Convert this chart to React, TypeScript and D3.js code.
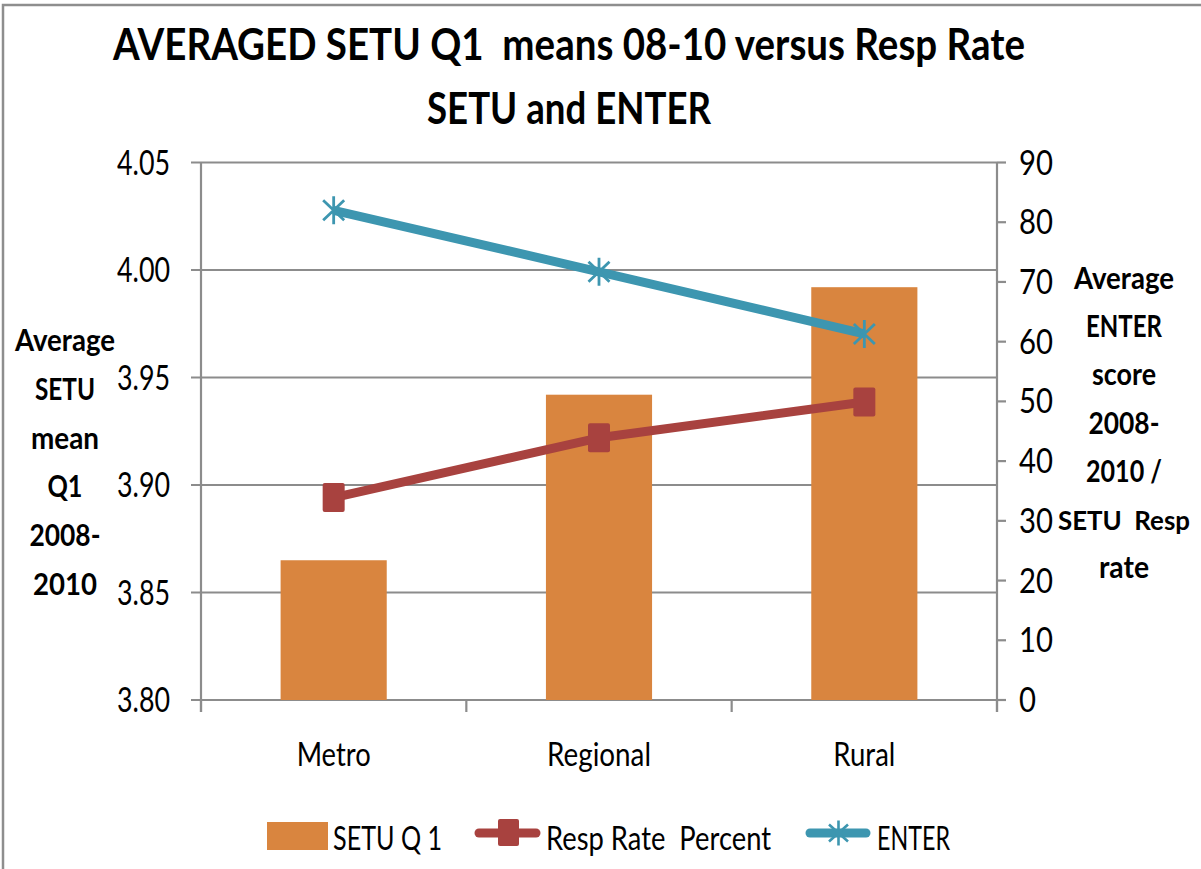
import React from "react";
import * as d3 from "d3";

const categories = ["Metro", "Regional", "Rural"];
const setuQ1 = [3.865, 3.942, 3.992];
const respRate = [33.9, 43.9, 49.9];
const enter = [82.0, 71.7, 61.3];
const leftTicks = [3.8, 3.85, 3.9, 3.95, 4.0, 4.05];
const rightTicks = [0, 10, 20, 30, 40, 50, 60, 70, 80, 90];
const titleLines = ["AVERAGED SETU Q1  means 08-10 versus Resp Rate", "SETU and ENTER"];
const leftTitle = ["Average", "SETU", "mean", "Q1", "2008-", "2010"];
const rightTitle = ["Average", "ENTER", "score", "2008-", "2010 /", "SETU  Resp", "rate"];
const legendLabels = ["SETU Q 1", "Resp Rate  Percent", "ENTER"];

const ORANGE = "#D9853F";
const RED = "#A8423F";
const BLUE = "#3D96B0";
const GRID = "#8C8C8C";
const FONT = "Lato, 'Open Sans', sans-serif";

function T(props: any) {
  const { x, y, w, anchor = "start", size = 33, bold = false, children } = props;
  return (
    <text
      x={x}
      y={y}
      textAnchor={anchor}
      fontSize={size}
      fontWeight={bold ? 700 : 400}
      fontFamily={FONT}
      fill="#000"
      textLength={w}
      lengthAdjust="spacingAndGlyphs"
      style={{ whiteSpace: "pre" }}
    >
      {children}
    </text>
  );
}

function Star({ cx, cy, w, h, sw }: any) {
  const d = `M${cx},${cy - h / 2}L${cx},${cy + h / 2}M${cx - w / 2},${cy - h / 2 + 4}L${cx + w / 2},${cy + h / 2 - 4}M${cx - w / 2},${cy + h / 2 - 4}L${cx + w / 2},${cy - h / 2 + 4}`;
  return <path d={d} stroke={BLUE} strokeWidth={sw} fill="none" />;
}

export default function App() {
  const left = 201;
  const right = 997;
  const top = 162.5;
  const bottom = 700;

  const x = d3.scaleBand<string>().domain(categories).range([left, right]).paddingInner(0.6).paddingOuter(0.3);
  const yL = d3.scaleLinear().domain([3.8, 4.05]).range([bottom, top]);
  const yR = d3.scaleLinear().domain([0, 90]).range([bottom, top]);
  const step = x.step();
  const cx = (c: string) => (x(c) as number) + x.bandwidth() / 2;

  const line = d3.line<number>().x((_, i) => cx(categories[i])).y((v) => yR(v));

  const leftLabelW = 53;
  const catWidths = [74, 104, 62];
  const leftTitleW = [100, 60, 68, 35, 71, 64];
  const rightTitleW = [100, 76, 64, 71, 76, 132, 50];

  return (
    <svg width={1201} height={869} style={{ position: "absolute", left: 0, top: 0, background: "#fff" }}>
      <rect x={0} y={0} width={1201} height={869} fill="#fff" />
      {/* frame */}
      <path d="M3,869L3,5L1201,5" stroke="#8E8E8E" strokeWidth={2.5} fill="none" />

      {/* title */}
      <T x={113} y={60} w={912} size={43} bold>{titleLines[0]}</T>
      <T x={427} y={124} w={284} size={43} bold>{titleLines[1]}</T>

      {/* gridlines */}
      {leftTicks.map((t) => (
        <line key={"g" + t} x1={left - 10} x2={right} y1={yL(t)} y2={yL(t)} stroke={GRID} strokeWidth={2.2} />
      ))}

      {/* bars */}
      {categories.map((c, i) => (
        <rect key={c} x={x(c)} width={x.bandwidth()} y={yL(setuQ1[i])} height={bottom - yL(setuQ1[i])} fill={ORANGE} />
      ))}

      {/* axes */}
      <line x1={left} x2={left} y1={top} y2={bottom + 12} stroke={GRID} strokeWidth={2.2} />
      <line x1={right} x2={right} y1={top} y2={bottom + 12} stroke={GRID} strokeWidth={2.2} />
      {rightTicks.map((t) => (
        <line key={"rt" + t} x1={right} x2={right + 9} y1={yR(t)} y2={yR(t)} stroke={GRID} strokeWidth={2.2} />
      ))}
      {d3.range(categories.length + 1).map((i) => (
        <line key={"xt" + i} x1={left + i * step} x2={left + i * step} y1={bottom} y2={bottom + 12} stroke={GRID} strokeWidth={2.2} />
      ))}

      {/* tick labels */}
      {leftTicks.map((t) => (
        <T key={"lt" + t} x={170} y={yL(t) + 12} w={leftLabelW} anchor="end" size={34}>
          {t.toFixed(2)}
        </T>
      ))}
      {rightTicks.map((t) => (
        <T key={"rl" + t} x={1019} y={yR(t) + 12} w={t === 0 ? 17 : 34} size={34}>
          {String(t)}
        </T>
      ))}
      {categories.map((c, i) => (
        <T key={"cl" + c} x={cx(c)} y={766} w={catWidths[i]} anchor="middle" size={33}>
          {c}
        </T>
      ))}

      {/* axis titles */}
      {leftTitle.map((s, i) => (
        <T key={"ltt" + i} x={65} y={351 + i * 48.8} w={leftTitleW[i]} anchor="middle" size={31} bold>
          {s}
        </T>
      ))}
      {rightTitle.map((s, i) => (
        <T key={"rtt" + i} x={1124} y={289 + i * 48.2} w={rightTitleW[i]} anchor="middle" size={i === 5 ? 26 : 31} bold>
          {s}
        </T>
      ))}

      {/* lines */}
      <path d={line(respRate) || ""} stroke={RED} strokeWidth={9} fill="none" strokeLinejoin="round" />
      {respRate.map((v, i) => (
        <rect key={"rm" + i} x={cx(categories[i]) - 11} y={yR(v) - 14.5} width={22} height={29} rx={2} fill={RED} />
      ))}
      <path d={line(enter) || ""} stroke={BLUE} strokeWidth={9} fill="none" strokeLinejoin="round" />
      {enter.map((v, i) => (
        <Star key={"em" + i} cx={cx(categories[i])} cy={yR(v)} w={21} h={28} sw={2.8} />
      ))}

      {/* legend */}
      <rect x={267} y={822} width={61} height={28} fill={ORANGE} />
      <T x={333} y={850} w={109}>{legendLabels[0]}</T>
      <line x1={479} x2={536} y1={833} y2={833} stroke={RED} strokeWidth={9} strokeLinecap="round" />
      <rect x={498} y={819} width={21} height={27} rx={2} fill={RED} />
      <T x={546} y={850} w={225}>{legendLabels[1]}</T>
      <line x1={810} x2={866} y1={833} y2={833} stroke={BLUE} strokeWidth={9} strokeLinecap="round" />
      <Star cx={838.5} cy={833} w={19} h={25} sw={2.6} />
      <T x={877} y={850} w={73}>{legendLabels[2]}</T>
    </svg>
  );
}
